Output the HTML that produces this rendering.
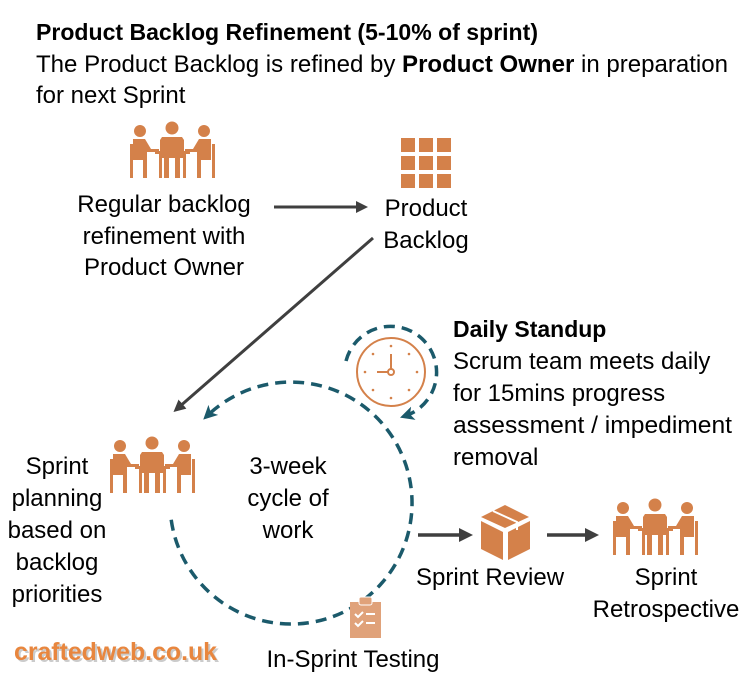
<!DOCTYPE html>
<html><head><meta charset="utf-8"><style>
html,body{margin:0;padding:0;background:#fff;}
svg{display:block;}
text{font-family:"Liberation Sans",sans-serif;fill:#000;}
</style></head><body>
<svg width="754" height="690" viewBox="0 0 754 690" xmlns="http://www.w3.org/2000/svg">
<defs>
<marker id="ah" markerWidth="4" markerHeight="4" refX="2" refY="2" orient="auto" markerUnits="strokeWidth"><path d="M0,0 L4,2 L0,4 Z" fill="#3f3f3f"/></marker>
<marker id="th" markerWidth="4" markerHeight="4" refX="2.5" refY="2" orient="auto" markerUnits="strokeWidth"><path d="M0,0 L4,2 L0,4 L1,2 Z" fill="#1b5a6b"/></marker>
<g id="meet" fill="#d4814a">
 <circle cx="10" cy="9" r="6"/><circle cx="42" cy="6" r="6.5"/><circle cx="74" cy="9" r="6"/>
 <path d="M3,17 h12 l6,10 h8 v3 h-12 v26 h-4 v-18 h-10 z"/>
 <path d="M32,15 h20 l2,3 v18 h-4 v20 h-5 v-20 h-6 v20 h-5 v-20 h-4 v-18 z"/>
 <path d="M81,17 h-12 l-6,10 h-8 v3 h12 v26 h4 v-18 h10 z"/>
 <rect x="0" y="22" width="3" height="34"/><rect x="82" y="22" width="3" height="34"/>
 <rect x="25" y="29" width="35" height="3"/>
 <rect x="29" y="32" width="3" height="24"/><rect x="53" y="32" width="3" height="24"/>
</g>
</defs>

<text x="36" y="40" font-size="23" font-weight="bold" textLength="502" lengthAdjust="spacingAndGlyphs">Product Backlog Refinement (5-10% of sprint)</text>
<text x="36" y="72" font-size="24" textLength="692" lengthAdjust="spacingAndGlyphs">The Product Backlog is refined by <tspan font-weight="bold">Product Owner</tspan> in preparation</text>
<text x="36" y="103" font-size="24">for next Sprint</text>

<use href="#meet" x="130" y="122"/>
<g font-size="24" text-anchor="middle">
<text x="164" y="212">Regular backlog</text>
<text x="164" y="244">refinement with</text>
<text x="164" y="275">Product Owner</text>
<text x="426" y="216">Product</text>
<text x="426" y="248">Backlog</text>
</g>
<g fill="#d4814a">
<rect x="401" y="138" width="14" height="14"/><rect x="419" y="138" width="14" height="14"/><rect x="437" y="138" width="14" height="14"/>
<rect x="401" y="156" width="14" height="14"/><rect x="419" y="156" width="14" height="14"/><rect x="437" y="156" width="14" height="14"/>
<rect x="401" y="174" width="14" height="14"/><rect x="419" y="174" width="14" height="14"/><rect x="437" y="174" width="14" height="14"/>
</g>
<line x1="274" y1="207" x2="362" y2="207" stroke="#3f3f3f" stroke-width="3" marker-end="url(#ah)"/>
<line x1="373" y1="238" x2="178" y2="408" stroke="#3f3f3f" stroke-width="3" marker-end="url(#ah)"/>

<path d="M171.2,519.8 A121,121 0 1 0 207,416" fill="none" stroke="#1b5a6b" stroke-width="3.5" stroke-dasharray="11,7" marker-end="url(#th)"/>
<circle cx="391" cy="372" r="34" fill="none" stroke="#d4814a" stroke-width="2"/>
<g fill="#d4814a">
<circle cx="391" cy="346" r="1.3"/><circle cx="391" cy="398" r="1.3"/><circle cx="365" cy="372" r="1.3"/><circle cx="417" cy="372" r="1.3"/>
<circle cx="373" cy="354" r="1.3"/><circle cx="409" cy="354" r="1.3"/><circle cx="373" cy="390" r="1.3"/><circle cx="409" cy="390" r="1.3"/>
</g>
<path d="M391,354 V369 M388,372 H377" stroke="#d4814a" stroke-width="2" fill="none"/>
<circle cx="391" cy="372" r="3" fill="#fff" stroke="#d4814a" stroke-width="2"/>
<path d="M346,361 A46,46 0 1 1 405,416" fill="none" stroke="#1b5a6b" stroke-width="3.5" stroke-dasharray="11,7" marker-end="url(#th)"/>

<text x="453" y="337" font-size="23" font-weight="bold">Daily Standup</text>
<g font-size="24">
<text x="453" y="369">Scrum team meets daily</text>
<text x="453" y="401">for 15mins progress</text>
<text x="453" y="433" textLength="279" lengthAdjust="spacingAndGlyphs">assessment / impediment</text>
<text x="453" y="465">removal</text>
</g>

<use href="#meet" x="110" y="437"/>
<g font-size="24" text-anchor="middle">
<text x="57" y="474">Sprint</text>
<text x="57" y="506">planning</text>
<text x="57" y="538">based on</text>
<text x="57" y="570">backlog</text>
<text x="57" y="602">priorities</text>
<text x="288" y="474">3-week</text>
<text x="288" y="506">cycle of</text>
<text x="288" y="538">work</text>
<text x="490" y="585">Sprint Review</text>
<text x="666" y="585">Sprint</text>
<text x="666" y="617">Retrospective</text>
<text x="353" y="667">In-Sprint Testing</text>
</g>

<line x1="418" y1="535" x2="466" y2="535" stroke="#3f3f3f" stroke-width="3.5" marker-end="url(#ah)"/>
<line x1="547" y1="535" x2="592" y2="535" stroke="#3f3f3f" stroke-width="3.5" marker-end="url(#ah)"/>

<g fill="#d4814a">
<path d="M505,505 L481,517 L505,528 L529,517 Z"/>
<path d="M481,521 L503,532 V560 L481,549 Z"/>
<path d="M530,521 L508,532 V560 L530,549 Z"/>
</g>
<path d="M493,511 L517,522 V530" stroke="#fff" stroke-width="2" fill="none"/>

<use href="#meet" x="613" y="499"/>

<rect x="350" y="602" width="31" height="36" fill="#e0a27a"/>
<rect x="359" y="597" width="13" height="8" rx="2" fill="#e0a27a" stroke="#fff" stroke-width="1"/>
<path d="M355,614 l3,3 l5,-5 M366,614 h9 M355,623 l3,3 l5,-5 M366,623 h9" stroke="#fff" stroke-width="2" fill="none"/>

<text x="16" y="662" font-size="25" font-weight="bold" style="fill:#aaa" opacity="0.6" textLength="203" lengthAdjust="spacingAndGlyphs">craftedweb.co.uk</text>
<text x="14" y="660" font-size="25" font-weight="bold" style="fill:#e8863e" textLength="203" lengthAdjust="spacingAndGlyphs">craftedweb.co.uk</text>
</svg>
</body></html>
